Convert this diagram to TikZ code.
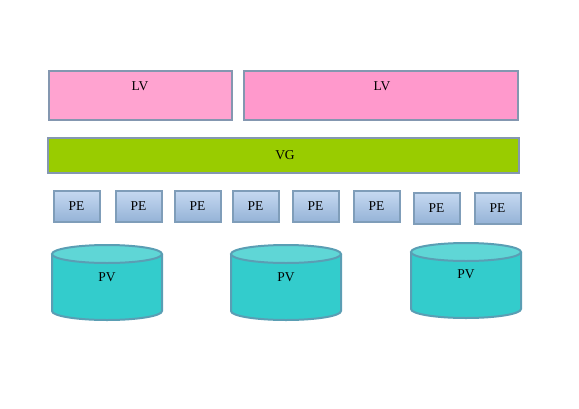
\documentclass[tikz,border=0pt]{standalone}
\usepackage{fontspec}
\setmainfont{Liberation Serif}
\definecolor{lvA}{HTML}{FFA3D0}
\definecolor{lvB}{HTML}{FF99CC}
\definecolor{vgc}{HTML}{99CC00}
\definecolor{bordc}{HTML}{8497B0}
\definecolor{peTop}{HTML}{C6D9F1}
\definecolor{peBot}{HTML}{95B3D7}
\definecolor{peBord}{HTML}{7F9DB9}
\definecolor{cylBody}{HTML}{33CCCC}
\definecolor{cylTop}{HTML}{5FD6D6}
\definecolor{cylBord}{HTML}{5A9EB4}
\begin{document}
\begin{tikzpicture}[x=1pt,y=-1pt,
  every node/.style={font=\fontsize{13.5pt}{16pt}\selectfont, text=black},
  bigbox/.style={draw=bordc, line width=2pt, inner sep=0pt},
  pebox/.style={draw=peBord, line width=2pt, top color=peTop, bottom color=peBot,
    minimum width=46pt, minimum height=31pt, inner sep=0pt},
  lbl/.style={inner sep=0pt}
]
\useasboundingbox (0,0) rectangle (579,408);
% LV boxes
\node[bigbox, fill=lvA, minimum width=183pt, minimum height=49pt] (lv1) at (140.5,95.5) {};
\node[lbl] (lv1t) at (140,86) {LV};
\node[bigbox, fill=lvB, minimum width=274pt, minimum height=49pt] (lv2) at (381,95.5) {};
\node[lbl] (lv2t) at (382,86) {LV};
% VG
\node[bigbox, fill=vgc, minimum width=471pt, minimum height=35pt] (vg) at (283.5,155.5) {};
\node[lbl] (vgt) at (285,155) {VG};
% PE boxes
\node[pebox] (pe1) at (76.5,206) {PE};
\node[pebox] (pe2) at (138.5,206) {PE};
\node[pebox] (pe3) at (197.5,206) {PE};
\node[pebox] (pe4) at (255.5,206) {PE};
\node[pebox] (pe5) at (315.5,206.5) {PE};
\node[pebox] (pe6) at (376.5,206.5) {PE};
\node[pebox] (pe7) at (436.5,208) {PE};
\node[pebox] (pe8) at (497.5,208) {PE};
% PV cylinders
\foreach \L/\R/\yt/\yb/\n/\ty in {52/162/254/311/pv1/277, 231/341/254/311/pv2/277, 411/521/252/309/pv3/274}{
  \pgfmathsetmacro{\rx}{(\R-\L)/2}
  \pgfmathsetmacro{\cx}{(\R+\L)/2}
  \fill[cylBody] (\L,\yt) -- (\L,\yb) arc[start angle=180, end angle=0, x radius=\rx, y radius=9] -- (\R,\yt) -- cycle;
  \draw[cylBord, line width=2pt] (\L,\yt) -- (\L,\yb) arc[start angle=180, end angle=0, x radius=\rx, y radius=9] -- (\R,\yt);
  \filldraw[fill=cylTop, draw=cylBord, line width=2pt] (\cx,\yt) ellipse[x radius=\rx, y radius=9];
  \node[lbl] (\n) at (\cx,\ty) {PV};
}
\end{tikzpicture}
\end{document}
